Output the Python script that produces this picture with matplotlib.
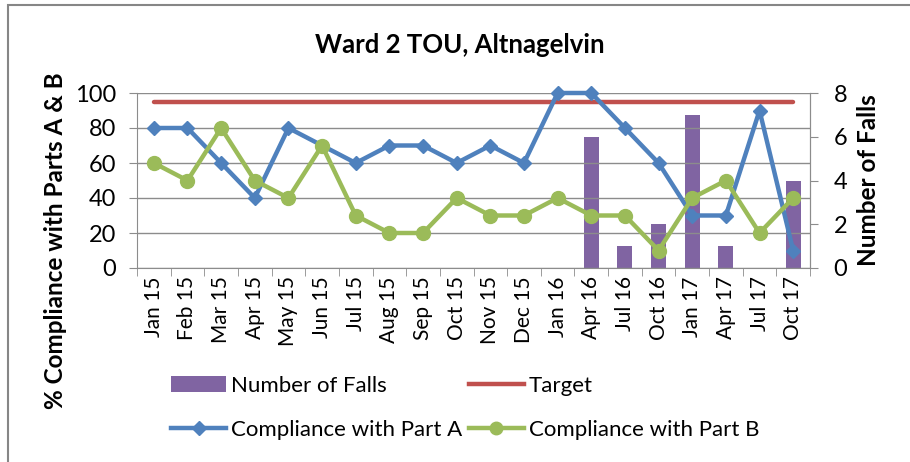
import matplotlib
matplotlib.use('Agg')
import matplotlib.pyplot as plt
from matplotlib.lines import Line2D
from matplotlib.patches import Patch, Rectangle
import numpy as np

plt.rcParams['font.family'] = ['Lato', 'DejaVu Sans']

months = ['Jan 15', 'Feb 15', 'Mar 15', 'Apr 15', 'May 15', 'Jun 15', 'Jul 15',
          'Aug 15', 'Sep 15', 'Oct 15', 'Nov 15', 'Dec 15', 'Jan 16', 'Apr 16',
          'Jul 16', 'Oct 16', 'Jan 17', 'Apr 17', 'Jul 17', 'Oct 17']
part_a = [80, 80, 60, 40, 80, 70, 60, 70, 70, 60, 70, 60, 100, 100, 80, 60, 30, 30, 90, 10]
part_b = [60, 50, 80, 50, 40, 70, 30, 20, 20, 40, 30, 30, 40, 30, 30, 10, 40, 50, 20, 40]
falls = [0, 0, 0, 0, 0, 0, 0, 0, 0, 0, 0, 0, 0, 6, 1, 2, 7, 1, 0, 4]
target = [95] * len(months)

BLUE = '#4F81BD'
GREEN = '#9BBB59'
RED = '#C0504D'
PURPLE = '#8064A2'
GRID = '#8C8C8C'

fig = plt.figure(figsize=(9.1, 4.62), dpi=100)
# chart frame (right/bottom edges fall outside the picture)
fig.patches.append(Rectangle((8 / 910, -0.1), 1.0, 1 - 5 / 462 + 0.1, transform=fig.transFigure,
                             fill=False, edgecolor='#868686', linewidth=1.5))

ax = fig.add_axes([137 / 910, 1 - 268 / 462, (810 - 137) / 910, (268 - 93) / 462])
ax2 = ax.twinx()

x = np.arange(len(months))

# bars on secondary axis, drawn below lines
ax2.bar(x, falls, width=0.45, color=PURPLE, zorder=1)
ax2.set_ylim(0, 8)
ax2.set_yticks([0, 2, 4, 6, 8])

ax.set_zorder(ax2.get_zorder() + 1)
ax.patch.set_visible(False)

ax.plot(x, target, color=RED, lw=3.2, solid_capstyle='round', zorder=3)
ax.plot(x, part_a, color=BLUE, lw=3.2, marker='D', ms=7.5, zorder=4, clip_on=False)
ax.plot(x, part_b, color=GREEN, lw=3.2, marker='o', ms=10, zorder=5, clip_on=False)

ax.set_xlim(-0.5, len(months) - 0.5)
ax.set_ylim(0, 100)
ax.set_yticks([0, 20, 40, 60, 80, 100])
ax.yaxis.grid(True, color=GRID, lw=1)
ax.set_axisbelow(True)

ax.set_xticks(x)
ax.set_xticklabels(months, rotation=90, fontsize=15)
ax.set_xticks(np.arange(-0.5, len(months)), minor=True)
ax.tick_params(axis='x', which='major', length=0, pad=6)
ax.tick_params(axis='x', which='minor', length=6, color=GRID, direction='out')
ax.tick_params(axis='y', labelsize=17, length=6, color=GRID, pad=9)
ax2.tick_params(axis='y', labelsize=17, length=6, color=GRID, pad=11)

for a in (ax, ax2):
    a.spines['top'].set_visible(False)
    for s in ('left', 'right', 'bottom'):
        a.spines[s].set_color(GRID)
ax2.spines['left'].set_visible(False)
ax2.spines['bottom'].set_visible(False)

fig.text(56 / 910, 1 - 241 / 462, '% Compliance with Parts A & B', fontsize=17.5,
         fontweight='bold', rotation=90, ha='center', va='center')
fig.text(868 / 910, 1 - 180 / 462, 'Number of Falls', fontsize=17.5,
         fontweight='bold', rotation=90, ha='center', va='center')
fig.text(0.505, 1 - 45 / 462, 'Ward 2 TOU, Altnagelvin', fontsize=18.5, fontweight='bold',
         ha='center', va='center')

handles = [
    Patch(facecolor=PURPLE, label='Number of Falls'),
    Line2D([], [], color=BLUE, lw=3.2, marker='D', ms=7, label='Compliance with Part A'),
    Line2D([], [], color=RED, lw=3.2, label='Target'),
    Line2D([], [], color=GREEN, lw=3.2, marker='o', ms=9, label='Compliance with Part B'),
]
fig.legend(handles=handles, ncol=2, loc='center', bbox_to_anchor=(465 / 910, 1 - 408 / 462),
           frameon=False, fontsize=16, handlelength=2.5, handletextpad=0.2,
           columnspacing=0.3, labelspacing=1.1)

fig.savefig('out.png', dpi=100)
